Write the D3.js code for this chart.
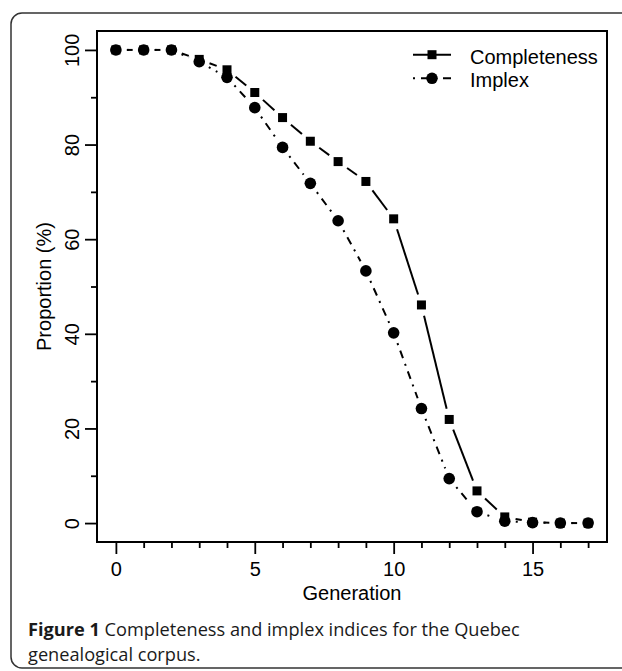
<!DOCTYPE html>
<html><head><meta charset="utf-8">
<script src="https://cdn.jsdelivr.net/npm/d3@7"></script>
<style>body{margin:0;background:#fff}svg{display:block}</style>
</head><body>
<svg id="c" width="622" height="671"></svg>
<script>
const generations = [0,1,2,3,4,5,6,7,8,9,10,11,12,13,14,15,16,17];
const completeness = [100,100,100,98,95.8,91,85.7,80.7,76.4,72.2,64.3,46.1,21.9,6.8,1.3,0.2,0,0];
const implex = [100,100,100,97.5,94.2,87.8,79.4,71.8,63.9,53.3,40.2,24.2,9.4,2.4,0.4,0.1,0,0];
const xMajor = [0,5,10,15];
const yMajor = [0,20,40,60,80,100];
const yMinor = [10,30,50,70,90];
const seriesNames = ["Completeness","Implex"];
const captionBold = "Figure 1";
const captionLines = [" Completeness and implex indices for the Quebec", "genealogical corpus."];

const svg = d3.select("#c");
const L = 97, R = 607, T = 31, B = 542;
const x = d3.scaleLinear().domain([-0.68, 17.68]).range([L, R]);
const y = d3.scaleLinear().domain([-4, 104]).range([B, T]);
const FONT = "'Liberation Sans', Arial, sans-serif";
const FS = 20;

// outer frame
svg.append("rect").attr("x",11).attr("y",13).attr("width",660).attr("height",655)
  .attr("rx",11).attr("fill","none").attr("stroke","#333").attr("stroke-width",1.5);

// plot box
svg.append("rect").attr("x",L).attr("y",T).attr("width",R-L).attr("height",B-T)
  .attr("fill","none").attr("stroke","#000").attr("stroke-width",2);

// x axis
const xAxis = d3.axisBottom(x).tickValues(generations).tickSize(12).tickSizeOuter(0)
  .tickFormat(d => xMajor.includes(d) ? d : "");
const gx = svg.append("g").attr("transform",`translate(0,${B})`).call(xAxis);
gx.select(".domain").remove();
gx.selectAll(".tick line").attr("stroke","#000").attr("stroke-width",1.8)
  .attr("y2", d => xMajor.includes(d) ? 12 : 6);
gx.selectAll(".tick text").attr("font-family",FONT).attr("font-size",FS).attr("fill","#000")
  .attr("y",19.5).attr("dy","0.71em");

// y axis
const yAxis = d3.axisLeft(y).tickValues(yMajor.concat(yMinor)).tickSize(12).tickSizeOuter(0)
  .tickFormat(d => yMajor.includes(d) ? d : "");
const gy = svg.append("g").attr("transform",`translate(${L},0)`).call(yAxis);
gy.select(".domain").remove();
gy.selectAll(".tick line").attr("stroke","#000").attr("stroke-width",1.8)
  .attr("x2", d => yMajor.includes(d) ? -12 : -6);
gy.selectAll(".tick text").attr("font-family",FONT).attr("font-size",FS).attr("fill","#000")
  .attr("x",0).attr("dy",0).attr("text-anchor","middle")
  .attr("transform","translate(-18,0) rotate(-90)");

// axis titles
svg.append("text").attr("x",(L+R)/2).attr("y",600).attr("text-anchor","middle")
  .attr("font-family",FONT).attr("font-size",FS).text("Generation");
svg.append("text").attr("transform",`translate(51,${(y(0)+y(100))/2}) rotate(-90)`)
  .attr("text-anchor","middle").attr("font-family",FONT).attr("font-size",FS).text("Proportion (%)");

// type "b" lines: segments with gaps around points
const GAP = 11;
function gapSegments(vals){
  const segs = [];
  for(let i=0;i<vals.length-1;i++){
    const x1=x(generations[i]), y1=y(vals[i]), x2=x(generations[i+1]), y2=y(vals[i+1]);
    const dx=x2-x1, dy=y2-y1, len=Math.hypot(dx,dy);
    if(len>2*GAP){
      const ux=dx/len, uy=dy/len;
      segs.push([x1+ux*GAP,y1+uy*GAP,x2-ux*GAP,y2-uy*GAP]);
    }
  }
  return segs;
}
function drawSeries(vals, dash, shape){
  const g = svg.append("g");
  g.selectAll("line").data(gapSegments(vals)).join("line")
    .attr("x1",d=>d[0]).attr("y1",d=>d[1]).attr("x2",d=>d[2]).attr("y2",d=>d[3])
    .attr("stroke","#000").attr("stroke-width",2).attr("stroke-dasharray",dash);
  const pts = generations.map((g,i)=>[x(g),y(vals[i])]);
  if(shape==="square"){
    g.selectAll("rect").data(pts).join("rect").attr("x",d=>d[0]-4.5).attr("y",d=>d[1]-4.5)
      .attr("width",9).attr("height",9).attr("fill","#000");
  } else {
    g.selectAll("circle").data(pts).join("circle").attr("cx",d=>d[0]).attr("cy",d=>d[1])
      .attr("r",5.8).attr("fill","#000");
  }
}
drawSeries(completeness, null, "square");
drawSeries(implex, "2,6,8,6", "circle");

// legend
const leg = [{name:seriesNames[0], dash:null, shape:"square", y:54.7, ty:63.5},
             {name:seriesNames[1], dash:"2,6,8,6", shape:"circle", y:78.3, ty:86.5}];
leg.forEach(l=>{
  svg.append("line").attr("x1",413).attr("x2",451).attr("y1",l.y).attr("y2",l.y)
    .attr("stroke","#000").attr("stroke-width",2).attr("stroke-dasharray",l.dash);
  if(l.shape==="square") svg.append("rect").attr("x",432-4.5).attr("y",l.y-4.5).attr("width",9).attr("height",9);
  else svg.append("circle").attr("cx",432).attr("cy",l.y).attr("r",5.8);
  svg.append("text").attr("x",470).attr("y",l.ty).attr("font-family",FONT).attr("font-size",FS).text(l.name);
});

// caption
const CF = "'Open Sans', sans-serif";
const CS = 18.2;
const t1 = svg.append("text").attr("x",28).attr("y",636).attr("font-family",CF).attr("font-size",CS).attr("fill","#1a1a1a");
t1.append("tspan").attr("font-weight","bold").text(captionBold);
t1.append("tspan").text(captionLines[0]);
svg.append("text").attr("x",28).attr("y",661).attr("font-family",CF).attr("font-size",CS).attr("fill","#1a1a1a").text(captionLines[1]);
</script>
</body></html>
